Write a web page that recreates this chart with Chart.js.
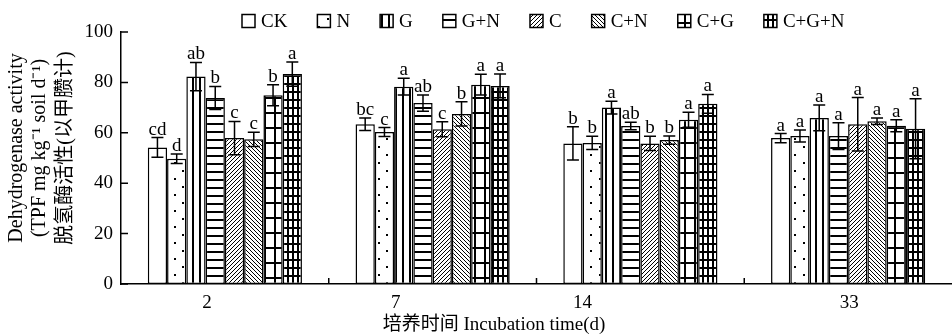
<!DOCTYPE html>
<html>
<head>
<meta charset="utf-8">
<script src="https://cdn.jsdelivr.net/npm/chart.js@4.4.1/dist/chart.umd.min.js"></script>
<style>
  html, body { margin: 0; padding: 0; background: #fff; }
  #wrap { width: 952px; height: 336px; }
</style>
</head>
<body>
<div id="wrap"><canvas id="c" width="952" height="336"></canvas></div>
<script>
// Incubation days (x categories)
const days = ['2', '7', '14', '33'];
// Treatment names
const treatments = ['CK', 'N', 'G', 'G+N', 'C', 'C+N', 'C+G', 'C+G+N'];

// Mean dehydrogenase activity per treatment, one value per day
const ckMean  = [54.2, 63.4, 55.8, 57.9];
const nMean   = [49.7, 60.3, 56.0, 58.7];
const gMean   = [82.3, 78.3, 70.0, 65.9];
const gnMean  = [73.8, 71.8, 62.7, 58.7];
const cMean   = [57.9, 61.4, 55.8, 63.4];
const cnMean  = [57.4, 67.5, 57.1, 64.6];
const cgMean  = [74.9, 79.1, 65.2, 62.8];
const cgnMean = [83.3, 78.6, 71.5, 61.6];

// Standard deviations
const ckSd  = [3.9, 2.5, 6.6, 1.8];
const nSd   = [1.9, 1.8, 2.6, 2.4];
const gSd   = [5.6, 3.3, 2.5, 5.1];
const gnSd  = [4.6, 3.2, 1.5, 5.3];
const cSd   = [6.6, 3.0, 2.8, 10.6];
const cnSd  = [2.8, 4.8, 1.6, 1.3];
const cgSd  = [4.2, 4.1, 3.0, 2.4];
const cgnSd = [4.8, 4.7, 3.7, 11.9];

// Significance letters within each day
const ckSig  = ['cd', 'bc', 'b', 'a'];
const nSig   = ['d', 'c', 'b', 'a'];
const gSig   = ['ab', 'a', 'a', 'a'];
const gnSig  = ['b', 'ab', 'ab', 'a'];
const cSig   = ['c', 'c', 'b', 'a'];
const cnSig  = ['c', 'b', 'b', 'a'];
const cgSig  = ['b', 'a', 'a', 'a'];
const cgnSig = ['a', 'a', 'a', 'a'];

// Y axis tick values
const yTicks = [0, 20, 40, 60, 80, 100];

// ---------------------------------------------------------------
const SERIF = '"Liberation Serif", "Times New Roman", "Noto Sans CJK SC", serif';
const canvas = document.getElementById('c');
const mainCtx = canvas.getContext('2d');

function pattern(w, h, paint) {
  const cv = document.createElement('canvas');
  cv.width = w; cv.height = h;
  const g = cv.getContext('2d');
  g.fillStyle = '#fff';
  g.fillRect(0, 0, w, h);
  g.fillStyle = '#000';
  g.strokeStyle = '#000';
  paint(g, w, h);
  return mainCtx.createPattern(cv, 'repeat');
}

const fills = [
  '#ffffff',                                                        // CK: blank
  pattern(17, 16, g => { g.fillRect(4, 2, 2, 2); g.fillRect(12, 10, 2, 2); }), // N: dots
  pattern(7, 4, g => { g.fillRect(3, 0, 2, 4); }),                  // G: vertical lines
  pattern(4, 8, g => { g.fillRect(0, 3, 4, 2); }),                  // G+N: horizontal lines
  pattern(4, 4, g => {                                              // C: forward hatch
    g.lineWidth = 1;
    g.beginPath();
    g.moveTo(-1, 5); g.lineTo(5, -1);
    g.moveTo(-1, 1); g.lineTo(1, -1);
    g.moveTo(3, 5); g.lineTo(5, 3);
    g.stroke();
  }),
  pattern(4, 4, g => {                                              // C+N: back hatch
    g.lineWidth = 1;
    g.beginPath();
    g.moveTo(-1, -1); g.lineTo(5, 5);
    g.moveTo(3, -1); g.lineTo(5, 1);
    g.moveTo(-1, 3); g.lineTo(1, 5);
    g.stroke();
  }),
  pattern(10, 15, g => { g.fillRect(4, 0, 2, 15); g.fillRect(0, 7, 10, 2); }), // C+G: wide grid
  pattern(5, 8, g => { g.fillRect(2, 0, 2, 8); g.fillRect(0, 3, 5, 2); })      // C+G+N: fine grid
];

const means = [ckMean, nMean, gMean, gnMean, cMean, cnMean, cgMean, cgnMean];
const sds   = [ckSd, nSd, gSd, gnSd, cSd, cnSd, cgSd, cgnSd];
const sigs  = [ckSig, nSig, gSig, gnSig, cSig, cnSig, cgSig, cgnSig];

const datasets = treatments.map((name, i) => ({
  label: name,
  data: means[i],
  sd: sds[i],
  sig: sigs[i],
  backgroundColor: fills[i],
  borderColor: '#000',
  borderWidth: 1.5,
  borderSkipped: false,
  categoryPercentage: 0.742,
  barPercentage: 1.0
}));

// Day labels sit slightly left of their groups
const dayLabelShift = [-18, -37, -58, 1];

const decor = {
  id: 'decor',
  afterDatasetsDraw(chart) {
    const ctx = chart.ctx;
    const y = chart.scales.y;
    ctx.save();
    ctx.strokeStyle = '#000';
    ctx.fillStyle = '#000';
    ctx.lineWidth = 1.5;
    ctx.font = '19px ' + SERIF;
    ctx.textAlign = 'center';
    ctx.textBaseline = 'alphabetic';
    chart.data.datasets.forEach((ds, i) => {
      const meta = chart.getDatasetMeta(i);
      meta.data.forEach((bar, j) => {
        const v = ds.data[j], e = ds.sd[j];
        const yt = y.getPixelForValue(v + e);
        const yb = y.getPixelForValue(v - e);
        ctx.beginPath();
        ctx.moveTo(bar.x, yt); ctx.lineTo(bar.x, yb);
        ctx.moveTo(bar.x - 6, yt); ctx.lineTo(bar.x + 6, yt);
        ctx.moveTo(bar.x - 6, yb); ctx.lineTo(bar.x + 6, yb);
        ctx.stroke();
        ctx.fillText(ds.sig[j], bar.x, yt - 3);
      });
    });
    ctx.restore();
  },
  afterDraw(chart) {
    const ctx = chart.ctx;
    const area = chart.chartArea;
    const x = chart.scales.x;
    const y = chart.scales.y;
    ctx.save();
    ctx.strokeStyle = '#000';
    ctx.fillStyle = '#000';
    ctx.lineWidth = 1.5;

    // inward tick marks on the y axis
    ctx.beginPath();
    yTicks.forEach(v => {
      const py = y.getPixelForValue(v);
      ctx.moveTo(area.left, py); ctx.lineTo(area.left + 7, py);
    });
    // inward tick marks between day groups
    for (let i = 0; i < days.length - 1; i++) {
      const px = (x.getPixelForValue(i) + x.getPixelForValue(i + 1)) / 2;
      ctx.moveTo(px, area.bottom); ctx.lineTo(px, area.bottom - 6);
    }
    ctx.stroke();

    // day labels
    ctx.font = '19px ' + SERIF;
    ctx.textAlign = 'center';
    ctx.textBaseline = 'middle';
    days.forEach((d, i) => {
      ctx.fillText(d, x.getPixelForValue(i) + dayLabelShift[i], area.bottom + 19);
    });

    // x axis title
    ctx.font = '19px ' + SERIF;
    ctx.fillText('培养时间 Incubation time(d)', 494, 325);

    // y axis title (three rotated lines)
    const yLines = ['Dehydrogenase activity', '(TPF mg kg\u207B\u00B9 soil d\u207B\u00B9)', '脱氢酶活性(以甲臜计)'];
    const lineX = [17, 40, 66];
    ctx.font = '20px ' + SERIF;
    yLines.forEach((t, i) => {
      ctx.save();
      ctx.translate(lineX[i], 148);
      ctx.rotate(-Math.PI / 2);
      ctx.fillText(t, 0, 0);
      ctx.restore();
    });

    // legend row
    ctx.font = '19px ' + SERIF;
    ctx.textAlign = 'left';
    let lx = 242;
    const ly = 21, bs = 13;
    chart.data.datasets.forEach(ds => {
      ctx.fillStyle = ds.backgroundColor;
      ctx.fillRect(lx, ly - bs / 2, bs, bs);
      ctx.lineWidth = 1.5;
      ctx.strokeRect(lx, ly - bs / 2, bs, bs);
      ctx.fillStyle = '#000';
      ctx.fillText(ds.label, lx + bs + 6, ly + 1);
      lx += bs + 6 + ctx.measureText(ds.label).width + 30;
    });
    ctx.restore();
  }
};

new Chart(canvas, {
  type: 'bar',
  data: { labels: days, datasets },
  options: {
    responsive: false,
    animation: false,
    devicePixelRatio: 1,
    layout: { padding: { top: 32, left: 0, right: -5, bottom: 0 } },
    plugins: {
      legend: { display: false },
      tooltip: { enabled: false },
      title: { display: false }
    },
    scales: {
      x: {
        grid: { display: false, drawTicks: false },
        border: { display: true, color: '#000', width: 1.5 },
        ticks: { display: false },
        afterFit(scale) { scale.height = 52; }
      },
      y: {
        min: 0,
        max: 100,
        grid: { display: false, drawTicks: false },
        border: { display: true, color: '#000', width: 1.5 },
        ticks: {
          stepSize: 20,
          padding: 8,
          color: '#000',
          font: { size: 19, family: SERIF }
        },
        afterFit(scale) { scale.width = 121; }
      }
    }
  },
  plugins: [decor]
});
</script>
</body>
</html>
